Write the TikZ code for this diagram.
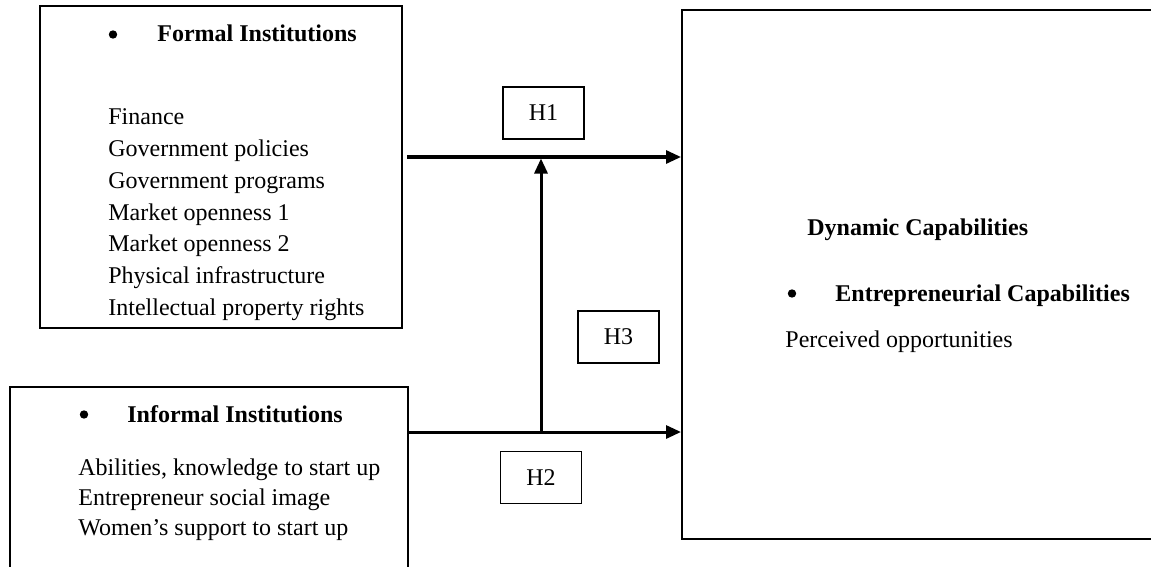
\documentclass[tikz,border=0pt]{standalone}
\usepackage{fontspec}
\setmainfont{Liberation Serif}
\usetikzlibrary{arrows.meta,fit}
\begin{document}
\begin{tikzpicture}[x=0.5pt,y=-0.5pt,
  frame/.style={draw, line width=1pt, inner sep=0pt},
  hbox/.style={draw, line width=0.6pt, inner sep=0pt,
    minimum width=40.5pt, minimum height=26pt, font=\fontsize{12}{14}\selectfont},
  txt/.style={anchor=base west, inner sep=0pt, font=\fontsize{12}{14}\selectfont},
  head/.style={txt, font=\fontsize{12}{14}\selectfont\bfseries},
  dot/.style={circle, fill, inner sep=0pt, minimum size=4.2pt},
  link/.style={line width=1.5pt, -{Triangle[length=7.5pt,width=6.5pt]}}]
\clip (0,0) rectangle (1151,567);

% outer boxes (the lower-left and right boxes run past the page edge)
\node[frame, fit={(40,6) (402,328)}] (formal) {};
\node[frame, fit={(10,387) (408,600)}] (informal) {};
\node[frame, fit={(682,10) (1175,539)}] (dynamic) {};

% formal institutions
\node[dot] (fdot) at (113,34.5) {};
\node[head] (ftitle) at (157,42) {Formal Institutions};
\foreach \t [count=\i] in {Finance, Government policies, Government programs,
    Market openness 1, Market openness 2, Physical infrastructure,
    Intellectual property rights}
  \node[txt] (f\i) at (108,{125+31.7*(\i-1)}) {\t};

% informal institutions
\node[dot] (idot) at (84,414.5) {};
\node[head] (ititle) at (127,422) {Informal Institutions};
\foreach \t [count=\i] in {{Abilities, knowledge to start up},
    Entrepreneur social image, Women’s support to start up}
  \node[txt] (i\i) at (78,{475+30*(\i-1)}) {\t};

% dynamic capabilities
\node[head] (dtitle) at (807,235) {Dynamic Capabilities};
\node[dot] (edot) at (792,293.5) {};
\node[head] (etitle) at (835,301) {Entrepreneurial Capabilities};
\node[txt] (e1) at (785,347) {Perceived opportunities};

% hypothesis labels
\node[hbox] (h1) at (543.5,113) {H1};
\node[hbox] (h3) at (618.5,337) {H3};
\node[hbox] (h2) at (541,477.5) {H2};

% connectors
\coordinate (s1) at (407,157);
\coordinate (s2) at (408,432);
\coordinate (j) at (541,432);
\draw[link] (s1) -- (s1 -| dynamic.west);
\draw[link] (s2) -- (s2 -| dynamic.west);
\draw[link] (j) -- ([yshift=-0.75pt]j |- s1);
\end{tikzpicture}
\end{document}
